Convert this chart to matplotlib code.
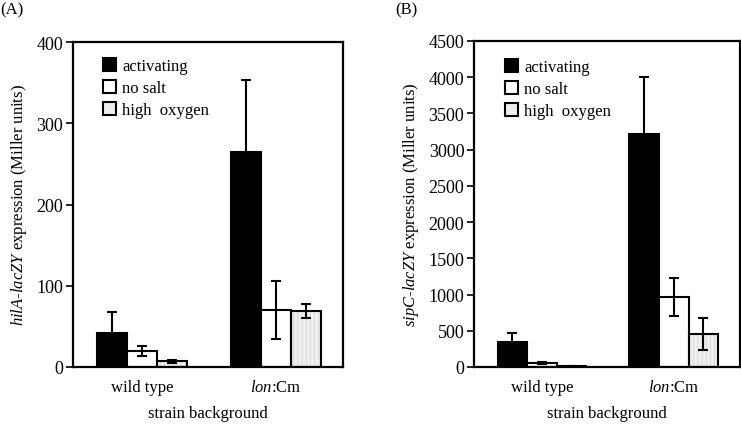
import matplotlib
matplotlib.use("Agg")
import matplotlib.pyplot as plt
from matplotlib.patches import Patch
import numpy as np

plt.rcParams['font.family'] = ['Liberation Serif', 'DejaVu Serif']
plt.rcParams['mathtext.fontset'] = 'custom'
plt.rcParams['mathtext.rm'] = 'Liberation Serif'
plt.rcParams['mathtext.it'] = 'Liberation Serif:italic'
plt.rcParams['font.size'] = 12
plt.rcParams['hatch.linewidth'] = 0.6

strains = ["wild type", "$lon$:Cm"]
conditions = ["activating", "no salt", "high  oxygen"]
colors = ["black", "white", "#efefef"]

# Panel A: hilA-lacZY
a_vals = {"activating": [42, 265], "no salt": [20, 70], "high  oxygen": [7, 69]}
a_errs = {"activating": [26, 88], "no salt": [6, 36], "high  oxygen": [2, 9]}

# Panel B: sipC-lacZY
b_vals = {"activating": [345, 3210], "no salt": [60, 970], "high  oxygen": [15, 460]}
b_errs = {"activating": [130, 790], "no salt": [15, 265], "high  oxygen": [5, 220]}

fig = plt.figure(figsize=(7.41, 4.31), dpi=100)
axA = fig.add_axes([0.0985, 0.1462, 0.3644, 0.754])
axB = fig.add_axes([0.6397, 0.1462, 0.3585, 0.7564])

width = 0.224
x = np.arange(len(strains))

def draw(ax, vals, errs, ymax, ystep, ylabel, leg_anchor):
    for i, c in enumerate(conditions):
        pos = x + (i - 1) * width
        if i == 2:
            ax.bar(pos, vals[c], width, color=colors[i], edgecolor='#d6d6d6',
                   linewidth=0, hatch='||||', zorder=1.5)
            ax.bar(pos, vals[c], width, color='none', edgecolor='black',
                   linewidth=1.5, zorder=2)
        else:
            ax.bar(pos, vals[c], width, color=colors[i], edgecolor='black',
                   linewidth=1.5, zorder=2)
        ax.errorbar(pos, vals[c], yerr=errs[c], fmt='none', ecolor='black',
                    elinewidth=1.5, capsize=3.3, capthick=1.5, zorder=3)
    ax.set_xlim(-0.515, 1.5)
    ax.set_ylim(0, ymax)
    ax.set_yticks(np.arange(0, ymax + 1, ystep))
    ax.set_xticks(x)
    ax.set_xticklabels(strains)
    ax.tick_params(axis='x', length=0, pad=9)
    ax.tick_params(axis='y', direction='out', length=5, width=1.2, pad=2,
                   labelsize=13)
    for s in ax.spines.values():
        s.set_linewidth(1.6)
    ax.set_xlabel("strain background", labelpad=7)
    ax.set_ylabel(ylabel, labelpad=5)
    handles = [Patch(facecolor=colors[i], edgecolor='black', linewidth=1.5)
               for i in range(3)]
    ax.legend(handles, conditions, loc='upper left', bbox_to_anchor=leg_anchor,
              frameon=False, borderpad=0, handlelength=0.8, handleheight=0.8,
              handletextpad=0.35, labelspacing=0.35, borderaxespad=0)

draw(axA, a_vals, a_errs, 400, 100,
     "$hilA$-$lacZY$ expression (Miller units)", (0.111, 0.95))
draw(axB, b_vals, b_errs, 4500, 500,
     "$sipC$-$lacZY$ expression (Miller units)", (0.117, 0.945))

fig.text(0.0, 0.975, "(A)", fontsize=12, va='center', ha='left')
fig.text(395 / 741, 0.975, "(B)", fontsize=12, va='center', ha='left')

fig.savefig("out.png", dpi=100)
